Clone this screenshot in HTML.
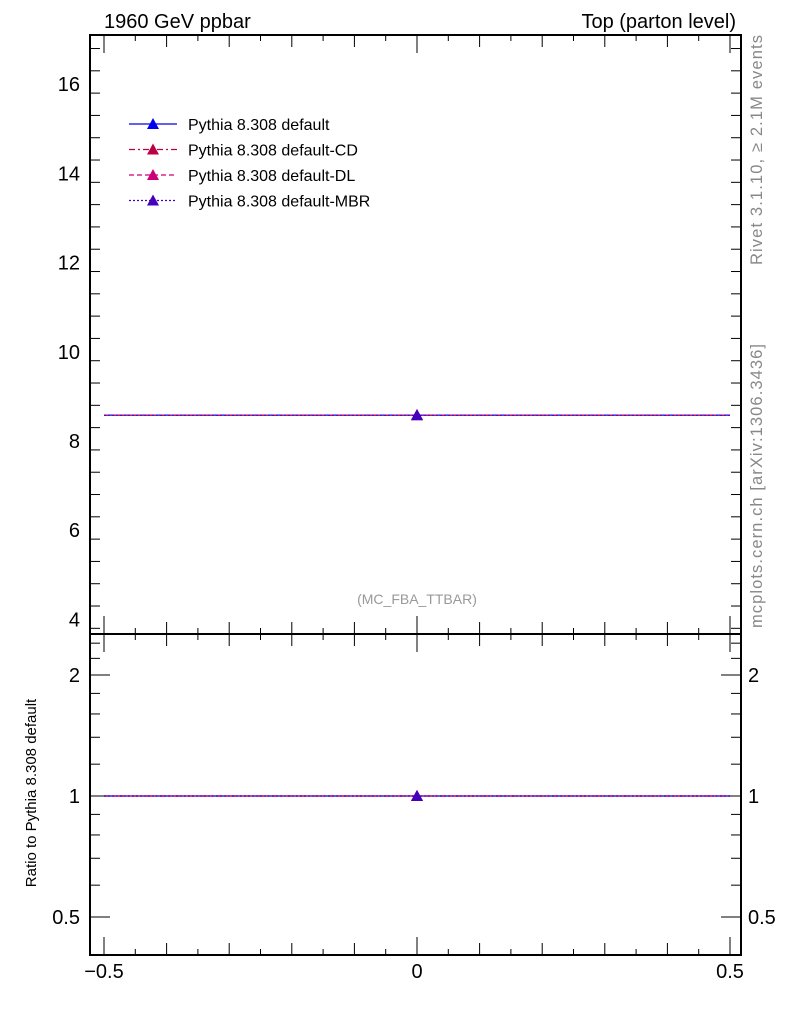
<!DOCTYPE html>
<html><head><meta charset="utf-8"><style>
body{margin:0;background:#fff;}
svg{display:block;font-family:"Liberation Sans",sans-serif;}
</style></head><body>
<svg id="c" width="786" height="1024" viewBox="0 0 786 1024">
<text x="104" y="28" font-size="20">1960 GeV ppbar</text>
<text x="736" y="28" font-size="20" text-anchor="end">Top (parton level)</text>
<text transform="translate(762,265) rotate(-90)" font-size="16.5" fill="#888" textLength="230">Rivet 3.1.10, ≥ 2.1M events</text>
<text transform="translate(762,628) rotate(-90)" font-size="16.5" fill="#888" textLength="284">mcplots.cern.ch [arXiv:1306.3436]</text>
<text x="417" y="604" font-size="14" fill="#999" text-anchor="middle">(MC_FBA_TTBAR)</text>
<text transform="translate(36,793) rotate(-90)" font-size="15" text-anchor="middle">Ratio to Pythia 8.308 default</text>
<g id="g"></g>
</svg>
<script>
const xCenters=[0];
const xEdges=[-0.5,0.5];
const mainVals=[8.58];
const ratioVals=[1.0];
const mainTicks=[4,6,8,10,12,14,16];
const ratioTicks=[0.5,1,2];
const xTicks=[-0.5,0,0.5];
const seriesNames=["Pythia 8.308 default","Pythia 8.308 default-CD","Pythia 8.308 default-DL","Pythia 8.308 default-MBR"];
const seriesColors=["#0000ee","#bb0044","#cc0077","#4400bb"];
const seriesDash=["","6,3,2,3","5,3","2,2"];
const NS="http://www.w3.org/2000/svg";
const g=document.getElementById('g');
const L=90,R=741,T=35,M=634,B=955;
const sx=v=>104+(v+0.5)*626;
const sy=v=>441-(v-8)*44.6;
const ry=v=>796-Math.log2(v)*121;
function el(t,a,p){const e=document.createElementNS(NS,t);for(const k in a)e.setAttribute(k,a[k]);(p||g).appendChild(e);return e;}
let f1=el('rect',{x:L,y:T,width:R-L,height:M-T,fill:'none',stroke:'#000','stroke-width':2});


let f2=el('rect',{x:L,y:M,width:R-L,height:B-M,fill:'none',stroke:'#000','stroke-width':2});


for(let v=-0.5;v<=0.5001;v+=0.05){const x=sx(v);const major=Math.abs(Math.round(v*10)-v*10)<1e-6;const len=Math.abs(v)<1e-6||Math.abs(Math.abs(v)-0.5)<1e-6?18:(major?12:6);
for(const [y0,d] of [[M,-1],[T,1],[B,-1],[M,1]]){const t=el('line',{x1:x,x2:x,y1:y0,y2:y0+d*len,stroke:'#000','stroke-width':1});}}
xTicks.forEach(v=>{const t=el('text',{x:sx(v),y:978,'font-size':20,'text-anchor':'middle'});t.textContent=v<0?'−'+Math.abs(v):String(v);});
for(let v=3.8;v<=17.01;v+=0.5){const y=sy(v);if(y<T||y>M)continue;const major=Math.abs(v%2)<1e-6;const len=major?20:10;
for(const [x0,d] of [[L,1],[R,-1]]){const t=el('line',{x1:x0,x2:x0+d*len,y1:y,y2:y,stroke:'#000'});}}
mainTicks.forEach(v=>{const t=el('text',{x:80,y:sy(v)+7,'font-size':20,'text-anchor':'end'});t.textContent=v;});
[0.5,0.6,0.7,0.8,0.9,1,2].forEach(v=>{const y=ry(v);const major=ratioTicks.includes(v);const len=major?20:10;
for(const [x0,d] of [[L,1],[R,-1]]){const t=el('line',{x1:x0,x2:x0+d*len,y1:y,y2:y,stroke:'#000'});}});
[1.2,1.4,1.6,1.8,2.2,2.4].forEach(v=>{const y=ry(v);for(const [x0,d] of [[L,1],[R,-1]]){const t=el('line',{x1:x0,x2:x0+d*10,y1:y,y2:y,stroke:'#000'});}});
ratioTicks.forEach(v=>{for(const [x,a] of [[80,'end'],[748,'start']]){const t=el('text',{x:x,y:ry(v)+7,'font-size':20,'text-anchor':a});t.textContent=v;}});
function tri(x,y,c,name){const p=el('polygon',{points:`${x-6},${y+5} ${x+6},${y+5} ${x},${y-6}`,fill:c});}
seriesNames.forEach((n,i)=>{
 const c=seriesColors[i];
 const l=el('line',{x1:sx(xEdges[0]),x2:sx(xEdges[1]),y1:sy(mainVals[0]),y2:sy(mainVals[0]),stroke:c,'stroke-width':1.2,'stroke-dasharray':seriesDash[i]});
 
 
 tri(sx(xCenters[0]),sy(mainVals[0]),c,'series-marker');
 const l2=el('line',{x1:sx(xEdges[0]),x2:sx(xEdges[1]),y1:ry(ratioVals[0]),y2:ry(ratioVals[0]),stroke:c,'stroke-width':1.2,'stroke-dasharray':seriesDash[i]});
 
 
 tri(sx(xCenters[0]),ry(ratioVals[0]),c,'ratio-marker');
 const ly=124+i*25.5;
 const ll=el('line',{x1:129,x2:177,y1:ly,y2:ly,stroke:c,'stroke-width':1.2,'stroke-dasharray':seriesDash[i]});
 
 
 tri(153,ly,c,'legend-marker');
 const t=el('text',{x:188,y:ly+6,'font-size':16});t.textContent=n;
 
 
});
</script>
</body></html>
